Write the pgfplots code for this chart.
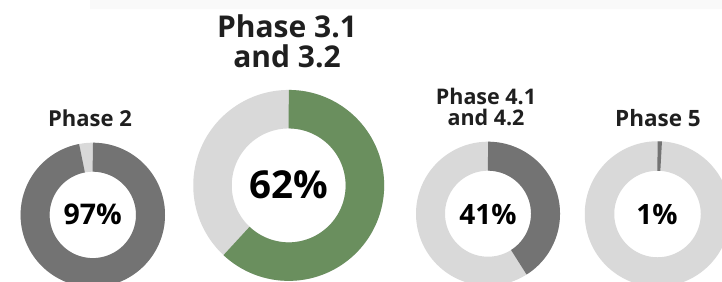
\documentclass[border=0pt]{standalone}
\usepackage{pgfplots}
\pgfplotsset{compat=1.18}
\usepackage{fontspec}
\setmainfont{Open Sans}
\definecolor{ringlight}{HTML}{D9D9D9}
\definecolor{ringdark}{HTML}{737373}
\definecolor{ringgreen}{HTML}{6A8F5E}
\definecolor{titletext}{HTML}{1F1F1F}
\begin{document}
\begin{tikzpicture}
\begin{axis}[
  x=1bp, y=1bp, y dir=reverse,
  xmin=0, xmax=722, ymin=0, ymax=281,
  hide axis, scale only axis,
  axis background/.style={fill=white},
  clip=true,
]
% faint top band
\addplot[draw=none, fill=black!2.5] coordinates {(90,0) (722,0) (722,9) (90,9)} \closedcycle;
% ---- Phase 2: 97% (dark) ----
\addplot[ringlight, line width=29bp, domain=0:360, samples=241] ({92.8+57.7*cos(x)},{214.9+57.7*sin(x)});
\addplot[ringdark, line width=29bp, domain=-90:-90+3.6*97, samples=241] ({92.8+57.7*cos(x)},{214.9+57.7*sin(x)});
% ---- Phase 3.1 and 3.2: 62% (green) ----
\addplot[ringlight, line width=38.5bp, domain=0:360, samples=241] ({288.7+76.2*cos(x)},{185.4+76.2*sin(x)});
\addplot[ringgreen, line width=38.5bp, domain=-90:-90+3.6*62, samples=241] ({288.7+76.2*cos(x)},{185.4+76.2*sin(x)});
% ---- Phase 4.1 and 4.2: 41% (dark) ----
\addplot[ringlight, line width=29bp, domain=0:360, samples=241] ({488+57.5*cos(x)},{213.7+57.5*sin(x)});
\addplot[ringdark, line width=29bp, domain=-90:-90+3.6*41, samples=241] ({488+57.5*cos(x)},{213.7+57.5*sin(x)});
% ---- Phase 5: 1% (dark) ----
\addplot[ringlight, line width=29.5bp, domain=0:360, samples=241] ({657.5+58*cos(x)},{214+58*sin(x)});
\addplot[ringdark, line width=29.5bp, domain=-90:-90+3.6*1, samples=5] ({657.5+58*cos(x)},{214+58*sin(x)});
% center labels
\node[font=\fontsize{28.5bp}{30bp}\selectfont\bfseries, text=black] at (axis cs:92.8,214.5) {97\%};
\node[font=\fontsize{38.5bp}{40bp}\selectfont\bfseries, text=black] at (axis cs:288.5,185) {62\%};
\node[font=\fontsize{28bp}{30bp}\selectfont\bfseries, text=black] at (axis cs:488,214) {41\%};
\node[font=\fontsize{28bp}{30bp}\selectfont\bfseries, text=black] at (axis cs:657,214) {1\%};
% titles
\node[font=\fontsize{22bp}{24bp}\selectfont\bfseries, text=titletext, anchor=base] at (axis cs:90,126) {Phase 2};
\node[font=\fontsize{30bp}{30bp}\selectfont\bfseries, text=titletext, anchor=base] at (axis cs:287,37) {Phase 3.1};
\node[font=\fontsize{30bp}{30bp}\selectfont\bfseries, text=titletext, anchor=base] at (axis cs:287,67) {and 3.2};
\node[font=\fontsize{21.5bp}{22bp}\selectfont\bfseries, text=titletext, anchor=base] at (axis cs:486,104) {Phase 4.1};
\node[font=\fontsize{21.5bp}{22bp}\selectfont\bfseries, text=titletext, anchor=base] at (axis cs:486,125) {and 4.2};
\node[font=\fontsize{22.5bp}{24bp}\selectfont\bfseries, text=titletext, anchor=base] at (axis cs:658,126) {Phase 5};
\end{axis}
\end{tikzpicture}
\end{document}
